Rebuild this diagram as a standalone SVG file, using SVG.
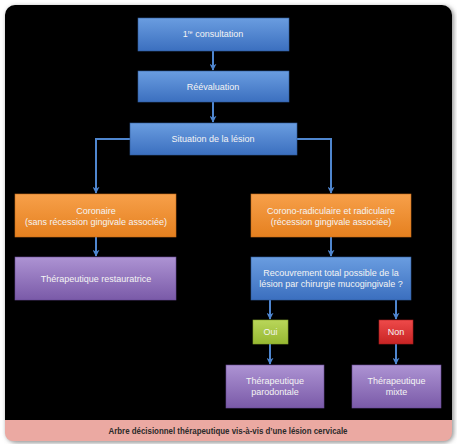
<svg xmlns="http://www.w3.org/2000/svg" width="457" height="444" viewBox="0 0 457 444">
<defs>
<linearGradient id="gBlue" x1="0" y1="0" x2="0" y2="1"><stop offset="0" stop-color="#6a9de0"/><stop offset="1" stop-color="#3b6fbf"/></linearGradient>
<linearGradient id="gOrange" x1="0" y1="0" x2="0" y2="1"><stop offset="0" stop-color="#f7a04a"/><stop offset="1" stop-color="#e5801f"/></linearGradient>
<linearGradient id="gPurple" x1="0" y1="0" x2="0" y2="1"><stop offset="0" stop-color="#ad93d3"/><stop offset="1" stop-color="#7a5aa8"/></linearGradient>
<linearGradient id="gGreen" x1="0" y1="0" x2="0" y2="1"><stop offset="0" stop-color="#b9d65a"/><stop offset="1" stop-color="#97b832"/></linearGradient>
<linearGradient id="gRed" x1="0" y1="0" x2="0" y2="1"><stop offset="0" stop-color="#ee4a4a"/><stop offset="1" stop-color="#c82424"/></linearGradient>
<marker id="arr" viewBox="0 0 10 10" refX="9" refY="5" markerWidth="7" markerHeight="7" markerUnits="userSpaceOnUse" orient="auto"><path d="M0,0 L10,5 L0,10 L3,5 z" fill="#4f86cf"/></marker>
<filter id="sh" x="-5%" y="-5%" width="110%" height="110%"><feGaussianBlur stdDeviation="2"/></filter>
</defs>
<style>
.b{stroke:#2f5b9a;stroke-width:0.6}
.o{stroke:#c86d1a;stroke-width:0.6}
.p{stroke:#6a4b96;stroke-width:0.6}
.t{font-family:"Liberation Sans",Arial,sans-serif;font-size:9px;fill:#f4f4f4;text-anchor:middle}
.c{fill:none;stroke:#4f86cf;stroke-width:2}
</style>
<rect width="457" height="444" fill="#ffffff"/>
<rect x="6" y="6" width="448" height="437" rx="10" fill="#9a9a9a" filter="url(#sh)"/>
<path d="M15,5 H442 A10,10 0 0 1 452,15 V420 H5 V15 A10,10 0 0 1 15,5 Z" fill="#000000"/>
<path d="M5,420 H452 V433 A8,8 0 0 1 444,441 H13 A8,8 0 0 1 5,433 Z" fill="#eba9a2"/>
<text x="228" y="434" font-family="'Liberation Sans',Arial,sans-serif" font-size="9.5" font-weight="bold" fill="#2a2a2a" text-anchor="middle" textLength="239" lengthAdjust="spacingAndGlyphs">Arbre décisionnel thérapeutique vis-à-vis d’une lésion cervicale</text>

<g id="connectors">
<line class="c" x1="213" y1="51" x2="213" y2="70" marker-end="url(#arr)"/>
<line class="c" x1="213" y1="102" x2="213" y2="122" marker-end="url(#arr)"/>
<polyline class="c" points="130,139 96,139 96,193" marker-end="url(#arr)"/>
<polyline class="c" points="297,139 331,139 331,193" marker-end="url(#arr)"/>
<line class="c" x1="96" y1="237" x2="96" y2="256" marker-end="url(#arr)"/>
<line class="c" x1="331" y1="237" x2="331" y2="256" marker-end="url(#arr)"/>
<line class="c" x1="270" y1="300" x2="270" y2="319" marker-end="url(#arr)"/>
<line class="c" x1="396" y1="300" x2="396" y2="319" marker-end="url(#arr)"/>
<line class="c" x1="270" y1="344" x2="270" y2="364" marker-end="url(#arr)"/>
<line class="c" x1="396" y1="344" x2="396" y2="364" marker-end="url(#arr)"/>
</g>

<g id="n1"><rect class="b" x="138" y="18" width="151" height="33" fill="url(#gBlue)"/>
<text class="t" x="213" y="37">1<tspan font-size="5.5" dy="-3">re</tspan><tspan dy="3"> consultation</tspan></text></g>
<g id="n2"><rect class="b" x="138" y="71" width="151" height="31" fill="url(#gBlue)"/>
<text class="t" x="213" y="90">Réévaluation</text></g>
<g id="n3"><rect class="b" x="130" y="123" width="167" height="32" fill="url(#gBlue)"/>
<text class="t" x="213" y="142">Situation de la lésion</text></g>
<g id="n4"><rect class="o" x="15" y="194" width="161" height="43" fill="url(#gOrange)"/>
<text class="t" x="96" y="214">Coronaire</text>
<text class="t" x="96" y="225">(sans récession gingivale associée)</text></g>
<g id="n5"><rect class="o" x="251" y="194" width="160" height="43" fill="url(#gOrange)"/>
<text class="t" x="331" y="214">Corono-radiculaire et radiculaire</text>
<text class="t" x="331" y="225">(récession gingivale associée)</text></g>
<g id="n6"><rect class="p" x="15" y="257" width="161" height="43" fill="url(#gPurple)"/>
<text class="t" x="96" y="282">Thérapeutique restauratrice</text></g>
<g id="n7"><rect class="b" x="251" y="257" width="160" height="43" fill="url(#gBlue)"/>
<text class="t" x="331" y="276">Recouvrement total possible de la</text>
<text class="t" x="331" y="287">lésion par chirurgie mucogingivale ?</text></g>
<g id="n8"><rect x="253" y="320" width="35" height="24" fill="url(#gGreen)" stroke="#86a52a" stroke-width="0.6"/>
<text class="t" x="270.5" y="335">Oui</text></g>
<g id="n9"><rect x="379" y="320" width="34" height="24" fill="url(#gRed)" stroke="#a81c1c" stroke-width="0.6"/>
<text class="t" x="396" y="335">Non</text></g>
<g id="n10"><rect class="p" x="226" y="365" width="98" height="43" fill="url(#gPurple)"/>
<text class="t" x="275" y="384">Thérapeutique</text>
<text class="t" x="275" y="395">parodontale</text></g>
<g id="n11"><rect class="p" x="352" y="365" width="89" height="43" fill="url(#gPurple)"/>
<text class="t" x="396.5" y="384">Thérapeutique</text>
<text class="t" x="396.5" y="395">mixte</text></g>
</svg>
